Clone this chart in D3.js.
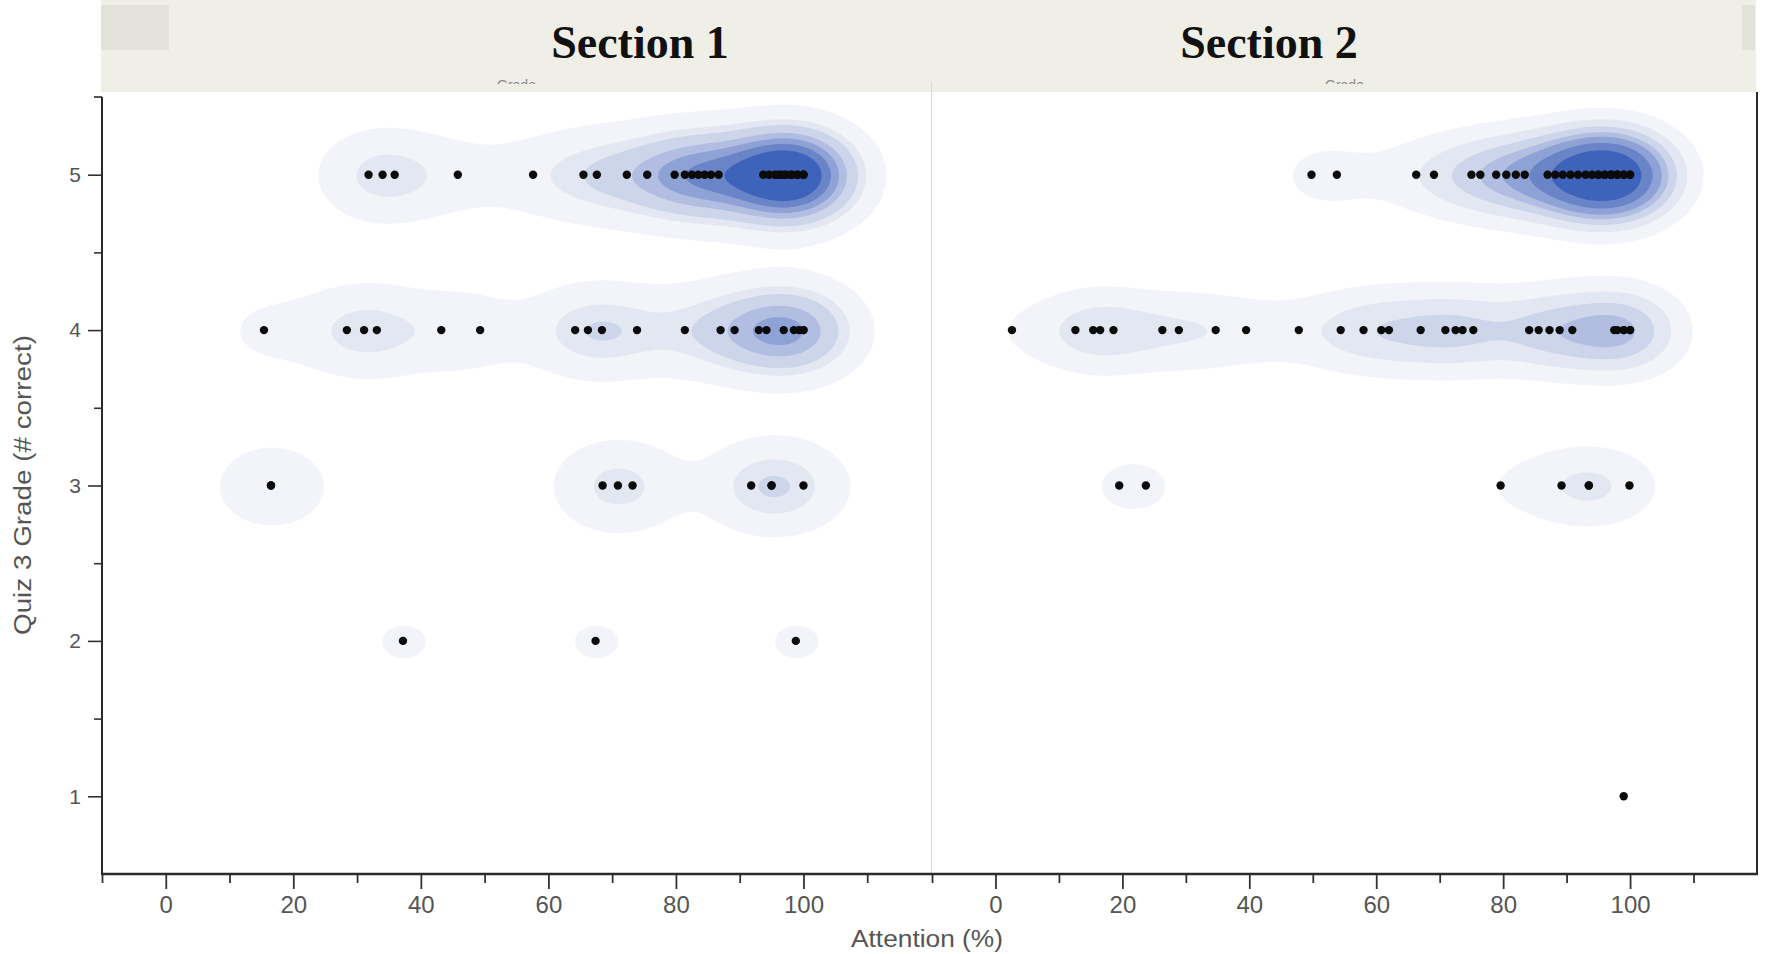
<!DOCTYPE html>
<html>
<head>
<meta charset="utf-8">
<script src="https://cdn.jsdelivr.net/npm/d3@7"></script>
<style>
  html, body { margin: 0; padding: 0; background: #fff; }
  svg { display: block; }
</style>
</head>
<body>
<svg id="chart" width="1767" height="954"></svg>
<script>
// ---------------- DATA ----------------
const sections = ["Section 1", "Section 2"];

// Section 1: attention (%) and quiz grade per student (overlapping duplicates included)
const s1Attention = [
  31.8, 34.0, 35.9, 45.8, 57.6, 65.5, 67.6, 72.3, 75.5, 79.8, 81.4, 82.5, 83.5, 84.5, 85.5, 86.7,
  93.7, 94.6, 95.5, 96.4, 97.3, 98.2, 99.1, 100, 96, 97, 98, 99, 100, 100,
  15.4, 28.4, 31.1, 33.1, 43.2, 49.3, 64.2, 66.2, 68.4, 73.9, 81.4, 87.0, 89.2, 93.0, 94.2, 96.9, 99.3, 100, 98.5, 100,
  16.5, 16.5, 68.5, 70.9, 73.2, 91.8, 95.0, 100, 95.0,
  37.2, 67.4, 98.8
];
const s1Grade = [
  5, 5, 5, 5, 5, 5, 5, 5, 5, 5, 5, 5, 5, 5, 5, 5,
  5, 5, 5, 5, 5, 5, 5, 5, 5, 5, 5, 5, 5, 5,
  4, 4, 4, 4, 4, 4, 4, 4, 4, 4, 4, 4, 4, 4, 4, 4, 4, 4, 4, 4,
  3, 3, 3, 3, 3, 3, 3, 3, 3,
  2, 2, 2
];

// Section 2
const s2Attention = [
  49.8, 53.8, 66.3, 69.1, 75.0, 76.4, 78.9, 80.5, 82.0, 83.4,
  87.0, 88.2, 89.4, 90.6, 91.8, 93.0, 94.0, 95.0, 96.0, 97.0, 98.0, 99.0, 100,
  95, 96, 97, 98, 99, 100, 97, 98,
  2.6, 12.6, 15.4, 16.5, 18.6, 26.3, 28.9, 34.7, 39.5, 47.8, 54.4, 58.0, 60.8, 62.0,
  67.0, 70.9, 72.5, 73.6, 75.3, 84.1, 85.6, 87.3, 88.9, 90.9, 97.5, 99.0, 100, 99.0, 100, 98.0,
  19.5, 23.7, 79.6, 89.2, 93.5, 99.9, 93.5,
  99.0
];
const s2Grade = [
  5, 5, 5, 5, 5, 5, 5, 5, 5, 5,
  5, 5, 5, 5, 5, 5, 5, 5, 5, 5, 5, 5, 5,
  5, 5, 5, 5, 5, 5, 5, 5,
  4, 4, 4, 4, 4, 4, 4, 4, 4, 4, 4, 4, 4, 4,
  4, 4, 4, 4, 4, 4, 4, 4, 4, 4, 4, 4, 4, 4, 4, 4,
  3, 3, 3, 3, 3, 3, 3,
  1
];

const xTickValues = [0, 20, 40, 60, 80, 100];
const xMinorTicks = [-10, 10, 30, 50, 70, 90, 110];
const yTickValues = [1, 2, 3, 4, 5];
const yMinorTicks = [1.5, 2.5, 3.5, 4.5];
const xTitle = "Attention (%)";
const yTitle = "Quiz 3 Grade (# correct)";

// density contour levels (fraction of each panel's peak density) and fills
const s1Levels = [0.061, 0.17, 0.24, 0.36, 0.46, 0.57, 0.7];
const s2Levels = [0.078, 0.17, 0.26, 0.35, 0.43, 0.55, 0.7];
const levelColors = ["#f3f4f9", "#e3e7f2", "#cdd5eb", "#b1bee1", "#8fa2d5", "#6a84c8", "#3e63bb"];

// ---------------- LAYOUT ----------------
const svg = d3.select("#chart");
const plotTop = 97, plotBottom = 874;
const panels = [
  { name: sections[0], x0: 102, x1: 931, xs: s1Attention, ys: s1Grade, levels: s1Levels, titleX: 640 },
  { name: sections[1], x0: 932, x1: 1757, xs: s2Attention, ys: s2Grade, levels: s2Levels, titleX: 1269 }
];
const yScale = d3.scaleLinear().domain([0.5, 5.5]).range([plotBottom, plotTop]);

// header band
svg.append("rect").attr("x", 101).attr("y", 0).attr("width", 1655).attr("height", 92).attr("fill", "#efefe7");
svg.append("rect").attr("x", 101).attr("y", 5).attr("width", 68).attr("height", 45).attr("fill", "#e2e2da");
svg.append("rect").attr("x", 1742).attr("y", 5).attr("width", 13).attr("height", 45).attr("fill", "#e2e2da");

// plot background
svg.append("rect").attr("x", 102).attr("y", 92).attr("width", 1655).attr("height", plotBottom - 92).attr("fill", "#ffffff");

panels.forEach((p, pi) => {
  const xScale = d3.scaleLinear().domain([-10, 120]).range([p.x0, p.x1]);

  // ---- density contours (gaussian kernel density of the points) ----
  const step = 2;
  const gx0 = p.x0, gy0 = plotTop - 4;
  const nx = Math.ceil((p.x1 - p.x0) / step) + 1;
  const ny = Math.ceil((plotBottom + 4 - gy0) / step) + 1;
  const sx = 40, sy = 30;
  const pts = p.xs.map((v, i) => [xScale(v), yScale(p.ys[i])]);
  const values = new Float64Array(nx * ny);
  for (let j = 0; j < ny; j++) {
    const py = gy0 + j * step;
    for (let i = 0; i < nx; i++) {
      const px = gx0 + i * step;
      let s = 0;
      for (let k = 0; k < pts.length; k++) {
        const dx = (px - pts[k][0]) / sx, dy = (py - pts[k][1]) / sy;
        const e = dx * dx + dy * dy;
        if (e < 30) s += Math.exp(-0.5 * e);
      }
      values[j * nx + i] = s;
    }
  }
  const maxV = d3.max(values);
  const thresholds = p.levels.map(f => f * maxV);
  const contours = d3.contours().size([nx, ny]).thresholds(thresholds)(values);
  const path = d3.geoPath(d3.geoIdentity().scale(step).translate([gx0, gy0]));

  const clipId = "clip" + pi;
  svg.append("clipPath").attr("id", clipId)
    .append("rect").attr("x", p.x0).attr("y", 92).attr("width", p.x1 - p.x0).attr("height", plotBottom - 92);

  const g = svg.append("g").attr("clip-path", `url(#${clipId})`);
  g.selectAll("path.level").data(contours).join("path")
    .attr("class", "level")
    .attr("d", path)
    .attr("fill", (d, i) => levelColors[i])
    .attr("stroke", "none");

  // points
  g.selectAll("circle").data(p.xs.map((v, i) => ({ x: v, y: p.ys[i] }))).join("circle")
    .attr("cx", d => xScale(d.x))
    .attr("cy", d => yScale(d.y))
    .attr("r", 4.2)
    .attr("fill", "#0b0b0b");

  // header title
  svg.append("text")
    .attr("x", p.titleX).attr("y", 58)
    .attr("text-anchor", "middle")
    .attr("font-family", "'Liberation Serif', 'Times New Roman', serif")
    .attr("font-weight", "bold")
    .attr("font-size", 46)
    .attr("fill", "#111")
    .text(p.name);

  // faint sub-label mostly hidden under the header
  const subClip = "subclip" + pi;
  svg.append("clipPath").attr("id", subClip)
    .append("rect").attr("x", p.x0).attr("y", 76).attr("width", p.x1 - p.x0).attr("height", 8);
  svg.append("text")
    .attr("x", (p.x0 + p.x1) / 2).attr("y", 90)
    .attr("text-anchor", "middle")
    .attr("clip-path", `url(#${subClip})`)
    .attr("font-family", "'Liberation Sans', Arial, sans-serif")
    .attr("font-size", 14)
    .attr("fill", "#8a8a8a")
    .text("Grade");

  // x axis
  const xAxis = d3.axisBottom(xScale).tickValues(xTickValues).tickSize(15).tickPadding(7).tickSizeOuter(0);
  const gx = svg.append("g").attr("transform", `translate(0,${plotBottom})`).call(xAxis);
  gx.select(".domain").remove();
  gx.selectAll(".tick line").attr("stroke", "#333").attr("stroke-width", 1.8);
  gx.selectAll(".tick text")
    .attr("font-family", "'Liberation Sans', Arial, sans-serif")
    .attr("font-size", 24)
    .attr("fill", "#555");
  const xMinor = d3.axisBottom(xScale).tickValues(xMinorTicks).tickSize(9).tickFormat("").tickSizeOuter(0);
  const gxm = svg.append("g").attr("transform", `translate(0,${plotBottom})`).call(xMinor);
  gxm.select(".domain").remove();
  gxm.selectAll(".tick line").attr("stroke", "#333").attr("stroke-width", 1.8);
});

// panel divider
svg.append("line").attr("x1", 931.5).attr("x2", 931.5).attr("y1", 82).attr("y2", plotBottom)
  .attr("stroke", "#d8d8d8").attr("stroke-width", 1);

// axis frame lines
svg.append("line").attr("x1", 101).attr("x2", 1758).attr("y1", plotBottom).attr("y2", plotBottom)
  .attr("stroke", "#2a2a2a").attr("stroke-width", 2.6);
svg.append("line").attr("x1", 102).attr("x2", 102).attr("y1", plotTop).attr("y2", plotBottom)
  .attr("stroke", "#2a2a2a").attr("stroke-width", 2);
svg.append("line").attr("x1", 1757).attr("x2", 1757).attr("y1", 92).attr("y2", plotBottom)
  .attr("stroke", "#2a2a2a").attr("stroke-width", 2);
svg.append("line").attr("x1", 94).attr("x2", 102).attr("y1", plotTop).attr("y2", plotTop)
  .attr("stroke", "#2a2a2a").attr("stroke-width", 1.6);

// y axis
const yAxis = d3.axisLeft(yScale).tickValues(yTickValues).tickSize(14).tickPadding(7).tickFormat(d3.format("d")).tickSizeOuter(0);
const gy = svg.append("g").attr("transform", "translate(102,0)").call(yAxis);
gy.select(".domain").remove();
gy.selectAll(".tick line").attr("stroke", "#333").attr("stroke-width", 1.6);
gy.selectAll(".tick text")
  .attr("font-family", "'Liberation Sans', Arial, sans-serif")
  .attr("font-size", 21)
  .attr("fill", "#555");
const yMinor = d3.axisLeft(yScale).tickValues(yMinorTicks).tickSize(8).tickFormat("").tickSizeOuter(0);
const gym = svg.append("g").attr("transform", "translate(102,0)").call(yMinor);
gym.select(".domain").remove();
gym.selectAll(".tick line").attr("stroke", "#333").attr("stroke-width", 1.6);

// axis titles
svg.append("text")
  .attr("x", 927).attr("y", 947)
  .attr("text-anchor", "middle")
  .attr("font-family", "'Liberation Sans', Arial, sans-serif")
  .attr("font-size", 23)
  .attr("textLength", 152)
  .attr("lengthAdjust", "spacingAndGlyphs")
  .attr("fill", "#555")
  .text(xTitle);
svg.append("text")
  .attr("transform", `translate(31,485) rotate(-90)`)
  .attr("text-anchor", "middle")
  .attr("font-family", "'Liberation Sans', Arial, sans-serif")
  .attr("font-size", 23)
  .attr("textLength", 300)
  .attr("lengthAdjust", "spacingAndGlyphs")
  .attr("fill", "#555")
  .text(yTitle);
</script>
</body>
</html>
